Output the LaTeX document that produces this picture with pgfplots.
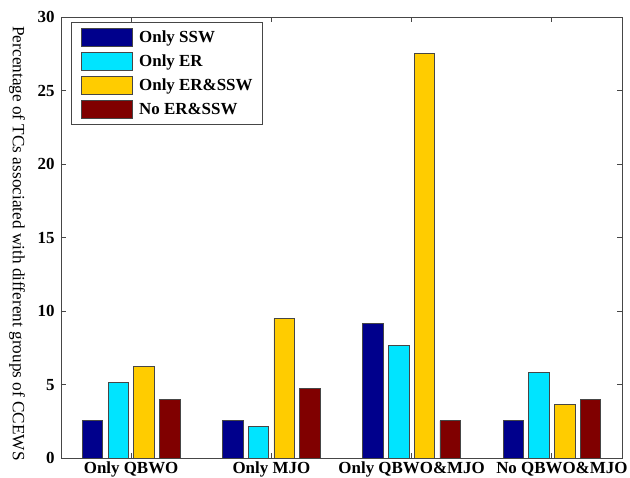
\documentclass[border=0pt]{standalone}
\usepackage{fontspec}
\setmainfont{Liberation Serif}
\usepackage{pgfplots}
\pgfplotsset{compat=1.18}
\definecolor{cSSW}{RGB}{0,0,140}
\definecolor{cER}{RGB}{0,228,255}
\definecolor{cERSSW}{RGB}{255,204,0}
\definecolor{cNo}{RGB}{128,0,0}
\definecolor{frame}{RGB}{70,70,70}
\begin{document}
\begin{tikzpicture}
\begin{axis}[
  scale only axis,
  width=561bp, height=441bp,
  xmin=0.5, xmax=4.5, ymin=0, ymax=30,
  xtick={1,2,3,4},
  xticklabels={Only QBWO, Only MJO, Only QBWO\&MJO, {\hspace*{20bp}No QBWO\&MJO}},
  ytick={0,5,10,15,20,25,30},
  /pgf/number format/assume math mode=true,
  tick align=inside,
  major tick length=5bp,
  axis line style={frame, line width=0.8pt},
  tick style={frame, line width=0.8pt},
  xticklabel style={font=\bfseries\fontsize{17}{17}\selectfont, yshift=0bp},
  yticklabel style={font=\bfseries\fontsize{17}{17}\selectfont, xshift=-3bp},
  ylabel={Percentage of TCs associated with different groups of CCEWS},
  ylabel style={at={(axis description cs:-0.0784,0.487)}, anchor=center, rotate=180, font=\fontsize{17.3}{17.3}\selectfont},
  legend cell align=left,
  legend image code/.code={\draw[#1] (0bp,-9bp) rectangle (51bp,9bp);},
  legend style={at={(axis description cs:0.0178,0.9887)}, anchor=north west,
    draw=frame, line width=0.8pt, font=\bfseries\fontsize{17}{17}\selectfont,
    inner xsep=10bp, inner ysep=5.5bp, row sep=5.2bp, column sep=6bp,
    nodes={inner sep=0bp}},
]
\addplot[ybar, bar width=0.146, bar shift=-0.275, fill=cSSW, draw=frame, line width=0.8pt]
  coordinates {(1,2.56) (2,2.56) (3,9.16) (4,2.56)};
\addplot[ybar, bar width=0.146, bar shift=-0.0917, fill=cER, draw=frame, line width=0.8pt]
  coordinates {(1,5.13) (2,2.18) (3,7.69) (4,5.86)};
\addplot[ybar, bar width=0.146, bar shift=0.0917, fill=cERSSW, draw=frame, line width=0.8pt]
  coordinates {(1,6.22) (2,9.52) (3,27.54) (4,3.66)};
\addplot[ybar, bar width=0.146, bar shift=0.275, fill=cNo, draw=frame, line width=0.8pt]
  coordinates {(1,4.02) (2,4.76) (3,2.56) (4,4.02)};
\legend{Only SSW, Only ER, Only ER\&SSW, No ER\&SSW}
\end{axis}
\pgfresetboundingbox
\path (current axis.south west) ++(-61bp,-19.7bp) rectangle ++(630bp,478bp);
\end{tikzpicture}
\end{document}
